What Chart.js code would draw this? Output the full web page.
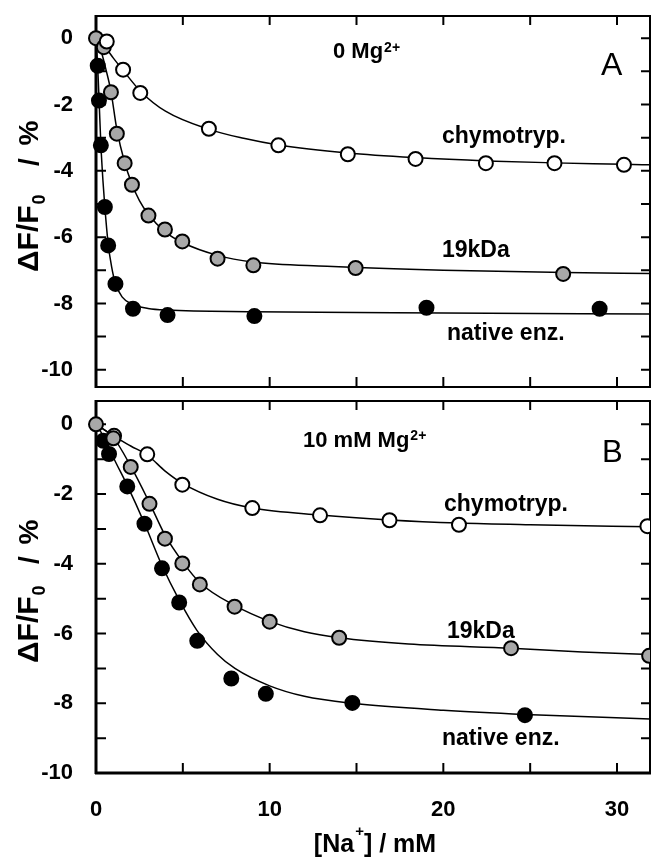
<!DOCTYPE html>
<html><head><meta charset="utf-8">
<script src="https://cdn.jsdelivr.net/npm/chart.js@4.4.1/dist/chart.umd.min.js"></script>
<style>
html,body{margin:0;padding:0;background:#fff;}
#wrap{position:relative;width:659px;height:857px;overflow:hidden;}
canvas{position:absolute;left:0;}
</style></head><body>
<div id="wrap">
<canvas id="cA" width="659" height="396" style="top:0px"></canvas>
<canvas id="cB" width="659" height="465" style="top:392px"></canvas>
</div>
<script>
// ---- tick values / labels ----
const xTickValues = [0, 10, 20, 30];
const xTickLabels = ['0', '10', '20', '30'];
const xMinorTicks = [5, 10, 15, 20, 25, 30];
const yTickValues = [0, -2, -4, -6, -8, -10];
const yTickLabels = ['0', '-2', '-4', '-6', '-8', '-10'];
const yMinorTicks = [0, -1, -2, -3, -4, -5, -6, -7, -8, -9, -10];

// ---- Panel A (0 Mg2+) measured points ----
const aChymoX = [0.62, 1.56, 2.55, 6.5, 10.5, 14.5, 18.4, 22.45, 26.4, 30.4];
const aChymoY = [-0.1, -0.95, -1.65, -2.73, -3.23, -3.5, -3.64, -3.77, -3.77, -3.82];
const a19kX = [0, 0.45, 0.86, 1.2, 1.65, 2.07, 3.02, 3.97, 4.97, 7.0, 9.06, 14.95, 26.9];
const a19kY = [0, -0.27, -1.63, -2.88, -3.77, -4.42, -5.35, -5.77, -6.13, -6.65, -6.85, -6.93, -7.11];
const aNativeX = [0.1, 0.17, 0.28, 0.51, 0.7, 1.12, 2.13, 4.12, 9.12, 19.03, 29.0];
const aNativeY = [-0.83, -1.88, -3.23, -5.09, -6.25, -7.41, -8.16, -8.35, -8.38, -8.13, -8.16];

// ---- Panel A fitted curves ----
const aChymoCurveX = [0, 0.5, 1, 1.56, 2.6, 4, 6.5, 8.5, 10.5, 14.5, 18.4, 22.5, 26.4, 30.4, 32];
const aChymoCurveY = [0, -0.25, -0.6, -0.97, -1.62, -2.2, -2.75, -3.02, -3.22, -3.46, -3.6, -3.7, -3.76, -3.8, -3.82];
const a19kCurveX = [0, 0.3, 0.6, 0.86, 1.2, 1.65, 2.07, 2.5, 3, 4, 5, 7, 9, 13.3, 20, 27, 32];
const a19kCurveY = [0, -0.4, -1.0, -1.6, -2.75, -3.75, -4.4, -4.9, -5.3, -5.85, -6.17, -6.55, -6.75, -6.88, -7.0, -7.07, -7.1];
const aNativeCurveX = [0, 0.1, 0.18, 0.28, 0.4, 0.51, 0.7, 0.9, 1.12, 1.5, 2.1, 3, 4.1, 9, 15, 20, 32];
const aNativeCurveY = [0, -0.9, -1.9, -3.2, -4.3, -5.1, -6.2, -6.9, -7.4, -7.8, -8.03, -8.15, -8.2, -8.25, -8.27, -8.29, -8.32];

// ---- Panel B (10 mM Mg2+) measured points ----
const bChymoX = [1.04, 2.95, 4.97, 9.0, 12.9, 16.9, 20.9, 31.75];
const bChymoY = [-0.33, -0.86, -1.73, -2.4, -2.61, -2.75, -2.88, -2.92];
const b19kX = [0, 1.0, 2.0, 3.08, 3.97, 4.97, 5.98, 7.98, 10.0, 14.0, 23.9, 31.85];
const b19kY = [0, -0.4, -1.22, -2.28, -3.28, -3.99, -4.59, -5.23, -5.66, -6.12, -6.42, -6.64];
const bNativeX = [0.42, 0.75, 1.8, 2.79, 3.8, 4.79, 5.83, 7.79, 9.78, 14.76, 24.7];
const bNativeY = [-0.47, -0.85, -1.78, -2.85, -4.13, -5.11, -6.21, -7.29, -7.73, -7.99, -8.34];

// ---- Panel B fitted curves ----
const bChymoCurveX = [0, 1, 2, 3, 4, 5, 7, 9, 12.9, 16.9, 20.9, 25, 32];
const bChymoCurveY = [0, -0.33, -0.62, -0.9, -1.35, -1.7, -2.15, -2.4, -2.6, -2.74, -2.83, -2.88, -2.94];
const b19kCurveX = [0, 1, 2, 3.08, 4, 5, 6, 8, 10, 12, 14, 18, 23.9, 28, 32];
const b19kCurveY = [0, -0.38, -1.2, -2.25, -3.2, -3.95, -4.55, -5.2, -5.65, -5.95, -6.12, -6.3, -6.42, -6.53, -6.6];
const bNativeCurveX = [0, 0.5, 1, 1.8, 2.8, 3.8, 4.8, 5.8, 7, 8, 10, 12, 14.76, 20, 24.7, 32];
const bNativeCurveY = [0, -0.4, -0.95, -1.75, -2.85, -4.05, -5.05, -5.9, -6.6, -7.0, -7.5, -7.8, -8.0, -8.2, -8.32, -8.45];

const zip = (xs, ys) => xs.map((x, i) => ({x: x, y: ys[i]}));
const FONT = '"Liberation Sans", Arial, Helvetica, sans-serif';
const CLIP = {left: false, top: false, right: 0, bottom: false};

function pointSet(xs, ys, kind) {
  const fill = kind === 'open' ? '#ffffff' : (kind === 'gray' ? '#a8a8a8' : '#000000');
  return {
    data: zip(xs, ys), showLine: false, order: 1, clip: CLIP,
    pointRadius: 7, pointHoverRadius: 7, pointBorderWidth: 2,
    pointBackgroundColor: fill, pointBorderColor: '#000'
  };
}
function curveSet(xs, ys) {
  return {
    data: zip(xs, ys), showLine: true, order: 10, clip: CLIP,
    borderColor: '#000', borderWidth: 1.5, pointRadius: 0,
    cubicInterpolationMode: 'monotone', fill: false
  };
}

function framePlugin(thickBottom) {
  return {
    id: 'frame',
    beforeDatasetsDraw(chart) {
      const ctx = chart.ctx, a = chart.chartArea, x = chart.scales.x, y = chart.scales.y;
      ctx.save();
      ctx.strokeStyle = '#000';
      ctx.lineWidth = 2;
      ctx.beginPath();
      yMinorTicks.forEach(v => {
        const py = y.getPixelForValue(v);
        ctx.moveTo(a.left, py); ctx.lineTo(a.left + 10, py);
        ctx.moveTo(a.right, py); ctx.lineTo(a.right - 9, py);
      });
      xMinorTicks.forEach(v => {
        const px = x.getPixelForValue(v);
        ctx.moveTo(px, a.top); ctx.lineTo(px, a.top + 9);
        ctx.moveTo(px, a.bottom); ctx.lineTo(px, a.bottom - 10);
      });
      ctx.stroke();
      ctx.lineWidth = 2;
      ctx.beginPath();
      ctx.moveTo(a.left, a.top); ctx.lineTo(a.right, a.top); ctx.lineTo(a.right, a.bottom);
      ctx.stroke();
      ctx.lineWidth = thickBottom ? 3 : 2;
      ctx.beginPath();
      ctx.moveTo(a.left - 1, a.bottom); ctx.lineTo(a.right + 1, a.bottom);
      ctx.stroke();
      ctx.lineWidth = 3;
      ctx.beginPath();
      ctx.moveTo(a.left, a.top - 1); ctx.lineTo(a.left, a.bottom + 1);
      ctx.stroke();
      ctx.restore();
    }
  };
}

function supText(ctx, x, base, main, sup, supBase, mainFont, supFont, after) {
  ctx.font = mainFont;
  ctx.fillText(main, x, base);
  let cx = x + ctx.measureText(main).width + 1;
  ctx.font = supFont;
  ctx.fillText(sup, cx, supBase);
  cx += ctx.measureText(sup).width;
  if (after) { ctx.font = mainFont; ctx.fillText(after, cx, base); }
}

function yTitle(ctx, bottomY, slashY, pctY) {
  ctx.save();
  ctx.translate(38, bottomY);
  ctx.rotate(-Math.PI / 2);
  ctx.fillStyle = '#000';
  ctx.textAlign = 'left';
  ctx.textBaseline = 'alphabetic';
  ctx.font = 'bold 30px ' + FONT;
  ctx.fillText('\u0394F/F', 0, 0);
  const w = ctx.measureText('\u0394F/F').width;
  ctx.font = 'bold 18px ' + FONT;
  ctx.fillText('0', w + 1, 7);
  ctx.font = 'bold 28px ' + FONT;
  ctx.textAlign = 'center';
  ctx.fillText('/', bottomY - slashY, 0);
  ctx.fillText('%', bottomY - pctY, 0);
  ctx.restore();
}

function textPlugin(panel) {
  return {
    id: 'texts',
    afterDraw(chart) {
      const ctx = chart.ctx;
      ctx.save();
      ctx.fillStyle = '#000';
      ctx.textBaseline = 'alphabetic';
      ctx.textAlign = 'left';
      const lab = 'bold 23px ' + FONT;
      if (panel === 'A') {
        supText(ctx, 333, 58, '0 Mg', '2+', 52, 'bold 22px ' + FONT, 'bold 14px ' + FONT);
        ctx.font = '32px ' + FONT; ctx.fillText('A', 601, 75);
        ctx.font = lab;
        ctx.fillText('chymotryp.', 442, 143);
        ctx.fillText('19kDa', 442, 257);
        ctx.fillText('native enz.', 447, 340);
        yTitle(ctx, 272, 162, 133);
      } else {
        supText(ctx, 303, 55, '10 mM Mg', '2+', 48, 'bold 22px ' + FONT, 'bold 14px ' + FONT);
        ctx.font = '31px ' + FONT; ctx.fillText('B', 602, 70);
        ctx.font = lab;
        ctx.fillText('chymotryp.', 444, 119);
        ctx.fillText('19kDa', 447, 246);
        ctx.fillText('native enz.', 442, 353);
        yTitle(ctx, 271, 168, 140);
        const mf = 'bold 25px ' + FONT, sf = 'bold 15px ' + FONT;
        ctx.font = mf; const w1 = ctx.measureText('[Na').width, w3 = ctx.measureText('] / mM').width;
        ctx.font = sf; const w2 = ctx.measureText('+').width;
        const total = w1 + w2 + w3 + 1;
        supText(ctx, 375 - total / 2, 460, '[Na', '+', 444, mf, sf, '] / mM');
      }
      ctx.restore();
    }
  };
}

function zeroPad(s) {
  s.paddingTop = 0; s.paddingBottom = 0; s.paddingLeft = 0; s.paddingRight = 0;
}

function makeChart(id, panel, yMin, datasets, xH, padTop) {
  const tickFont = {family: FONT, size: 22, weight: 'bold'};
  return new Chart(document.getElementById(id), {
    type: 'scatter',
    data: {datasets: datasets},
    options: {
      responsive: false, animation: false, devicePixelRatio: 1,
      layout: {padding: {left: 0, right: 3, top: padTop, bottom: 0}},
      plugins: {legend: {display: false}, tooltip: {enabled: false}},
      events: [],
      scales: {
        x: {
          type: 'linear', min: 0, max: 31.9,
          grid: {display: false, drawTicks: false}, border: {display: false},
          afterBuildTicks: s => { s.ticks = xTickValues.map(v => ({value: v})); },
          ticks: {display: panel === 'B', color: '#000', font: tickFont, padding: 24,
                  maxRotation: 0, autoSkip: false,
                  callback: (v) => xTickLabels[xTickValues.indexOf(v)]},
          afterFit: s => { s.height = xH; zeroPad(s); }
        },
        y: {
          type: 'linear', min: yMin, max: 0.67,
          grid: {display: false, drawTicks: false}, border: {display: false},
          afterBuildTicks: s => { s.ticks = yTickValues.map(v => ({value: v})); },
          ticks: {color: '#000', font: tickFont, padding: 23, autoSkip: false,
                  callback: (v) => yTickLabels[yTickValues.indexOf(v)]},
          afterFit: s => { s.width = 96; zeroPad(s); }
        }
      }
    },
    plugins: [framePlugin(panel === 'B'), textPlugin(panel)]
  });
}

makeChart('cA', 'A', -10.52, [
  pointSet(aChymoX, aChymoY, 'open'),
  pointSet(a19kX, a19kY, 'gray'),
  pointSet(aNativeX, aNativeY, 'black'),
  curveSet(aChymoCurveX, aChymoCurveY),
  curveSet(a19kCurveX, a19kCurveY),
  curveSet(aNativeCurveX, aNativeCurveY)
], 8, 16);

makeChart('cB', 'B', -10, [
  pointSet(b19kX, b19kY, 'gray'),
  pointSet(bChymoX, bChymoY, 'open'),
  pointSet(bNativeX, bNativeY, 'black'),
  curveSet(bChymoCurveX, bChymoCurveY),
  curveSet(b19kCurveX, b19kCurveY),
  curveSet(bNativeCurveX, bNativeCurveY)
], 84, 8);
</script>
</body></html>
